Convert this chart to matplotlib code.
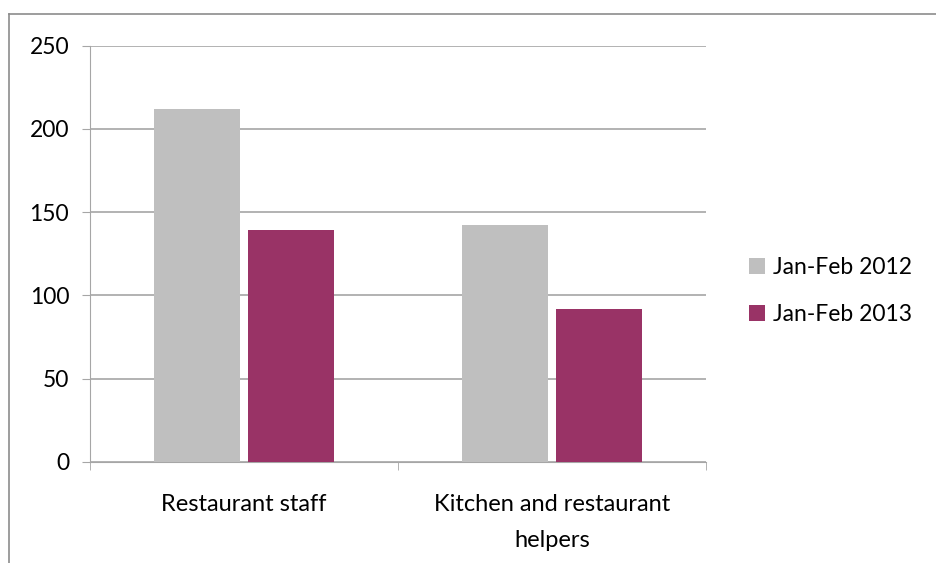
import matplotlib.pyplot as plt
from matplotlib.lines import Line2D
import numpy as np

categories = ['Restaurant staff', 'Kitchen and restaurant\nhelpers']
series_names = ['Jan-Feb 2012', 'Jan-Feb 2013']
values_2012 = [212, 142]
values_2013 = [139, 92]
colors = ['#BFBFBF', '#993366']

plt.rcParams['font.family'] = ['Lato', 'DejaVu Sans']

fig = plt.figure(figsize=(9.36, 5.63), dpi=100)
ax = fig.add_axes([0.0962, 0.1794, 0.658, 0.7396])

x = np.arange(len(categories))
width = 0.28
ax.bar(x - 0.1526, values_2012, width, color=colors[0], label=series_names[0], zorder=3)
ax.bar(x + 0.1526, values_2013, width, color=colors[1], label=series_names[1], zorder=3)

ax.set_xlim(-0.5, 1.5)
ax.set_ylim(0, 250)
ax.set_yticks(range(0, 251, 50))
ax.yaxis.grid(True, color='#A6A6A6', linewidth=1.2, zorder=0)

for side in ['top', 'right']:
    ax.spines[side].set_visible(False)
ax.spines['left'].set_color('#A6A6A6')
ax.spines['bottom'].set_color('#A6A6A6')

fs = 16.5
ax.set_xticks(x)
ax.set_xticklabels(categories, fontsize=17, linespacing=1.9)
ax.set_xticks([-0.5, 0.5, 1.5], minor=True)
ax.tick_params(axis='x', which='major', length=0, pad=23)
ax.tick_params(axis='x', which='minor', length=6, color='#A6A6A6')
ax.tick_params(axis='y', length=6, color='#A6A6A6', pad=9, labelsize=fs)

ax.legend(loc='center left', bbox_to_anchor=(0.800, 0.483),
          bbox_transform=fig.transFigure, frameon=False, borderpad=0,
          borderaxespad=0, fontsize=fs, handlelength=0.7, handleheight=0.7,
          handletextpad=0.35, labelspacing=1.1)

# outer chart-area border (only top and left visible)
fig.add_artist(Line2D([0.0096, 0.0096], [0, 0.975], color='#8C8C8C', linewidth=1.2))
fig.add_artist(Line2D([0.0096, 1], [0.975, 0.975], color='#8C8C8C', linewidth=1.2))

fig.savefig('out.png', dpi=100)
